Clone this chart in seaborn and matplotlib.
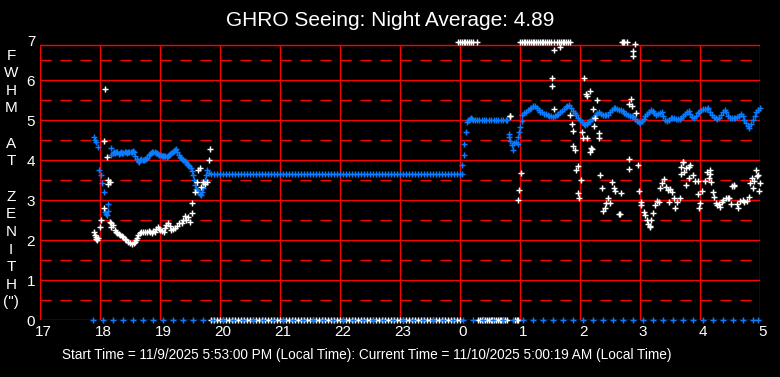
import matplotlib
matplotlib.use("Agg")
import matplotlib.pyplot as plt
import matplotlib.transforms as mtransforms
import seaborn as sns

# ---- data (hours since midnight of 11/9, values in arcsec) ----
hour_ticks = list(range(17, 30))
hour_labels = ["17", "18", "19", "20", "21", "22", "23", "0", "1", "2", "3", "4", "5"]

# blue series, varying parts
blue_t = [17.90, 17.92, 17.93, 17.97, 17.99, 18.01, 18.03, 18.06, 18.08, 18.10, 18.11, 18.13,
          18.14, 18.16, 18.18, 18.19,
          18.21, 18.23, 18.25, 18.27, 18.29, 18.31, 18.33, 18.35, 18.37, 18.39, 18.41, 18.43,
          18.45, 18.47, 18.49, 18.51, 18.53, 18.55, 18.57, 18.59, 18.61, 18.63, 18.65, 18.67,
          18.69, 18.71, 18.73, 18.75, 18.77, 18.79, 18.81, 18.83, 18.85, 18.87, 18.89, 18.91,
          18.93, 18.95, 18.97, 18.99, 19.01, 19.03, 19.05, 19.07, 19.09, 19.11, 19.13, 19.15,
          19.17, 19.19, 19.21, 19.23, 19.25, 19.27, 19.29, 19.31, 19.33, 19.35, 19.37, 19.39,
          19.41, 19.43, 19.45, 19.47, 19.49, 19.51, 19.53, 19.55, 19.57, 19.58, 19.60, 19.62,
          19.64, 19.66, 19.68, 19.70, 19.72, 19.74, 19.75, 19.77, 19.79, 19.81,
          24.03, 24.04, 24.06, 24.07, 24.10, 24.12, 24.14, 24.16, 24.18, 24.20, 24.22, 24.25,
          24.28, 24.32, 24.36, 24.40, 24.44, 24.48, 24.52, 24.56, 24.60, 24.64, 24.68, 24.72,
          24.76, 24.79, 24.81, 24.82, 24.84, 24.86, 24.88, 24.90, 24.93, 24.96, 24.97, 24.99,
          25.00, 25.03,
          25.04, 25.07, 25.10, 25.13, 25.16, 25.19, 25.22, 25.25, 25.28, 25.31, 25.34, 25.37,
          25.40, 25.43, 25.46, 25.49, 25.52, 25.55, 25.58, 25.61, 25.64, 25.67, 25.70, 25.73,
          25.76, 25.79, 25.82, 25.85, 25.88, 25.91, 25.94, 25.97, 26.00, 26.03, 26.06, 26.08,
          26.11, 26.14, 26.17, 26.20, 26.23, 26.26, 26.29, 26.32, 26.35, 26.38, 26.41, 26.44,
          26.47, 26.50, 26.53, 26.56, 26.59, 26.62, 26.65, 26.68, 26.71, 26.74, 26.77, 26.80,
          26.83, 26.86, 26.89, 26.92, 26.95, 26.98, 27.00, 27.03, 27.06, 27.09, 27.12, 27.15,
          27.18, 27.21, 27.24, 27.27, 27.30, 27.33, 27.36, 27.39, 27.42, 27.45, 27.48, 27.51,
          27.54, 27.57, 27.60, 27.63, 27.66, 27.69, 27.72, 27.75, 27.78, 27.81, 27.84, 27.87,
          27.90, 27.93, 27.96, 27.99, 28.02, 28.05, 28.08, 28.11, 28.14, 28.17, 28.20, 28.23,
          28.26, 28.29, 28.32, 28.35, 28.38, 28.41, 28.44, 28.47, 28.50, 28.53, 28.56, 28.59,
          28.62, 28.65, 28.68, 28.71, 28.74, 28.77, 28.80, 28.82, 28.85, 28.88, 28.91, 28.94,
          28.97, 29.00]
blue_v = [4.58, 4.50, 4.46, 4.32, 3.75, 3.63, 3.42, 3.21, 2.71, 2.65, 2.62, 2.72,
          2.89, 3.46, 4.12, 4.29,
          4.18, 4.20, 4.17, 4.21, 4.19, 4.16, 4.18, 4.20, 4.17, 4.18, 4.19, 4.20,
          4.18, 4.19, 4.21, 4.20, 4.19, 4.22, 4.20, 4.10, 4.02, 3.98, 3.96, 4.00,
          4.02, 3.99, 4.00, 4.03, 4.02, 4.06, 4.12, 4.16, 4.18, 4.20, 4.19, 4.21,
          4.18, 4.17, 4.15, 4.12, 4.12, 4.11, 4.10, 4.09, 4.09, 4.08, 4.10, 4.13,
          4.16, 4.18, 4.20, 4.23, 4.26, 4.27, 4.20, 4.12, 4.08, 4.05, 4.02, 4.00,
          3.97, 3.94, 3.91, 3.88, 3.85, 3.80, 3.72, 3.63, 3.50, 3.38, 3.28, 3.24,
          3.21, 3.16, 3.13, 3.20, 3.29, 3.42, 3.50, 3.62, 3.75, 3.68,
          3.64, 3.88, 4.12, 4.39, 4.69, 4.94, 5.00, 5.02, 5.04, 5.02, 5.00, 5.01,
          5.00, 5.00, 5.00, 5.00, 5.00, 5.00, 5.00, 5.00, 5.00, 5.00, 5.00, 5.00,
          5.00, 5.00, 4.64, 4.58, 4.47, 4.38, 4.25, 4.42, 4.46, 4.39, 4.58, 4.71,
          4.83, 4.97,
          5.13, 5.17, 5.21, 5.24, 5.28, 5.31, 5.34, 5.36, 5.31, 5.25, 5.21, 5.19,
          5.16, 5.14, 5.12, 5.10, 5.09, 5.08, 5.10, 5.13, 5.16, 5.19, 5.23, 5.27,
          5.32, 5.36, 5.37, 5.30, 5.22, 5.17, 5.13, 5.06, 5.00, 4.94, 4.89, 4.88,
          4.91, 4.95, 4.98, 5.02, 5.07, 5.13, 5.18, 5.21, 5.16, 5.13, 5.12, 5.13,
          5.13, 5.19, 5.26, 5.31, 5.29, 5.27, 5.26, 5.25, 5.22, 5.18, 5.15, 5.13,
          5.11, 5.09, 5.08, 5.03, 4.98, 4.94, 4.92, 4.97, 5.03, 5.09, 5.14, 5.19,
          5.24, 5.22, 5.17, 5.13, 5.14, 5.17, 5.19, 5.09, 4.99, 4.98, 5.01, 5.05,
          5.06, 5.05, 5.03, 5.02, 5.03, 5.06, 5.10, 5.14, 5.19, 5.22, 5.15, 5.08,
          5.05, 5.10, 5.17, 5.21, 5.24, 5.27, 5.28, 5.28, 5.29, 5.21, 5.13, 5.07,
          5.05, 5.03, 5.05, 5.12, 5.19, 5.24, 5.20, 5.11, 5.04, 5.04, 5.05, 5.06,
          5.08, 5.11, 5.14, 5.10, 5.01, 4.92, 4.85, 4.81, 4.90, 5.00, 5.09, 5.19,
          5.25, 5.31]

# long stretch where the blue series sits at 3.64 and the white one at 0
flat_t = [19.85, 19.90, 19.95,
          20.00, 20.05, 20.10, 20.15, 20.20, 20.25, 20.30, 20.35, 20.40, 20.45,
          20.50, 20.55, 20.60, 20.65, 20.70, 20.75, 20.80, 20.85, 20.90, 20.95,
          21.00, 21.05, 21.10, 21.15, 21.20, 21.25, 21.30, 21.35, 21.40, 21.45,
          21.50, 21.55, 21.60, 21.65, 21.70, 21.75, 21.80, 21.85, 21.90, 21.95,
          22.00, 22.05, 22.10, 22.15, 22.20, 22.25, 22.30, 22.35, 22.40, 22.45,
          22.50, 22.55, 22.60, 22.65, 22.70, 22.75, 22.80, 22.85, 22.90, 22.95,
          23.00, 23.05, 23.10, 23.15, 23.20, 23.25, 23.30, 23.35, 23.40, 23.45,
          23.50, 23.55, 23.60, 23.65, 23.70, 23.75, 23.80, 23.85, 23.90, 23.95, 24.00]
flat_blue = 3.64
flat_white = 0.0

# white series, scattered points
white_t = [17.90, 17.91, 17.93, 17.94, 17.95, 17.97, 18.00, 18.02, 18.06, 18.07, 18.08, 18.11,
           18.13, 18.14, 18.17, 18.16, 18.18, 18.19, 18.22, 18.25, 18.27, 18.29, 18.31, 18.33,
           18.36, 18.39, 18.42, 18.44, 18.47, 18.50, 18.53, 18.56, 18.58, 18.60, 18.62, 18.64,
           18.67, 18.69, 18.72, 18.75, 18.78, 18.81, 18.83, 18.86, 18.89, 18.92, 18.94, 18.96,
           18.98, 19.00, 19.03, 19.06, 19.08, 19.10, 19.14, 19.16, 19.19, 19.22, 19.25, 19.28,
           19.31, 19.36, 19.39, 19.42, 19.44, 19.47, 19.50, 19.53, 19.54, 19.58, 19.61, 19.64,
           19.67, 19.69, 19.72, 19.75, 19.78, 19.82, 19.84,
           24.83, 24.84, 24.97, 24.99, 25.01,
           25.53, 25.54, 25.56, 25.57, 25.66,
           25.84, 25.86, 25.88, 25.89, 25.91, 25.94, 25.96, 25.97, 25.99, 26.01, 26.03, 26.05,
           26.07, 26.10, 26.12, 26.16, 26.29, 26.21, 26.25, 26.24, 26.12, 26.17, 26.19, 26.20,
           26.31, 26.32,
           26.33, 26.36, 26.38, 26.42, 26.44, 26.47, 26.50, 26.53, 26.56, 26.58, 26.65, 26.66,
           26.69,
           26.81, 26.82, 26.97, 26.99, 26.82, 26.85, 26.86, 26.94, 26.88, 26.89, 26.92,
           27.01, 27.02, 27.06, 27.08, 27.11, 27.14, 27.16, 27.17, 27.19, 27.22, 27.25, 27.29,
           27.31, 27.33, 27.36, 27.40, 27.43, 27.47, 27.50, 27.54, 27.57, 27.49, 27.58, 27.62,
           27.66,
           27.69, 27.69, 27.71, 27.74, 27.72, 27.77, 27.76, 27.81, 27.82, 27.84, 27.89, 27.91,
           27.96, 27.97, 27.99, 28.00, 28.04, 28.08, 28.12, 28.15, 28.16, 28.17, 28.18, 28.21,
           28.23, 28.26, 28.28, 28.31, 28.33, 28.36, 28.39, 28.43, 28.46, 28.49, 28.51, 28.54,
           28.56, 28.57, 28.61, 28.64, 28.67, 28.71, 28.74, 28.78, 28.81, 28.83, 28.86, 28.88,
           28.90, 28.93, 28.95, 28.97, 28.99, 29.00]
white_v = [2.21, 2.12, 2.08, 2.02, 2.00, 2.04, 2.33, 2.50, 2.79, 4.47, 5.77, 4.07,
           3.50, 3.40, 3.46, 2.46, 2.33, 2.42, 2.38, 2.25, 2.21, 2.17, 2.15, 2.12,
           2.10, 2.08, 2.03, 2.00, 1.96, 1.92, 1.90, 1.92, 1.95, 2.00, 2.06, 2.12,
           2.17, 2.21, 2.20, 2.21, 2.19, 2.23, 2.20, 2.18, 2.22, 2.21, 2.28, 2.33,
           2.28, 2.25, 2.23, 2.21, 2.30, 2.38, 2.43, 2.36, 2.25, 2.27, 2.29, 2.35,
           2.42, 2.42, 2.50, 2.60, 2.50, 2.58, 2.46, 2.67, 2.92, 3.21, 3.46, 3.75,
           3.80, 3.33, 3.46, 3.40, 3.46, 4.00, 4.27,
           5.10, 5.10, 3.00, 3.25, 3.67,
           6.06, 5.84, 5.27, 6.74, 6.82,
           5.12, 4.89, 4.72, 4.35, 4.25, 3.75, 3.84, 3.17, 3.04, 3.50, 4.71, 4.56,
           6.06, 5.64, 5.60, 5.72, 5.50, 5.27, 5.06, 4.84, 4.56, 4.21, 4.29, 4.27,
           4.67, 4.56,
           3.63, 3.29, 2.73, 2.81, 2.92, 3.06, 2.92, 3.44, 3.29, 3.23, 2.64, 2.64,
           3.17,
           4.03, 3.77, 3.88, 3.22, 5.40, 5.52, 5.36, 5.17, 6.72, 6.61, 6.89,
           2.94, 2.88, 2.71, 2.63, 2.50, 2.39, 2.33, 2.35, 2.50, 2.68, 2.87, 2.97,
           2.96, 3.30, 3.42, 3.52, 3.33, 3.25, 3.27, 3.19, 3.06, 2.96, 2.81, 2.96,
           3.06,
           3.83, 3.65, 3.96, 3.71, 3.94, 3.38, 3.80, 3.83, 3.54, 3.88, 3.63, 3.47,
           3.47, 3.14, 2.79, 2.92, 3.22, 3.47, 3.71, 3.55, 3.75, 3.65, 3.44, 3.21,
           3.08, 2.92, 2.88, 2.90, 2.83, 2.95, 3.00, 3.06, 3.04, 3.06, 2.89, 3.36,
           3.36, 3.37, 2.89, 2.79, 2.98, 3.00, 2.94, 2.98, 3.08, 3.42, 3.54, 3.30,
           3.48, 3.75, 3.60, 3.63, 3.22, 3.42]

# white points pinned at the top of the scale
white_top_t = [23.97, 24.00, 24.03, 24.06, 24.09, 24.12, 24.15, 24.18, 24.21, 24.28,
               25.00, 25.03, 25.06, 25.09, 25.12, 25.15, 25.18, 25.21, 25.24, 25.27,
               25.30, 25.33, 25.36, 25.39, 25.42, 25.45, 25.48, 25.51, 25.57, 25.62,
               25.65, 25.68, 25.71, 25.74, 25.77, 25.80, 25.83, 26.70, 26.72, 26.74, 26.78]
white_top_v = 6.95

# white points at zero after midnight
white_zero_t = [24.30, 24.33, 24.36, 24.39, 24.42, 24.45, 24.48, 24.51, 24.54, 24.57,
                24.60, 24.63, 24.66, 24.69, 24.72, 24.75, 24.78, 24.92, 24.95, 24.97]

# blue markers along the zero line (every 10 minutes)
blue_zero_t = [17.88, 18.05, 18.22, 18.38, 18.55, 18.72, 18.88,
               19.05, 19.22, 19.38, 19.55, 19.72, 19.88, 20.05, 20.22, 20.38, 20.55, 20.72, 20.88,
               21.05, 21.22, 21.38, 21.55, 21.72, 21.88, 22.05, 22.22, 22.38, 22.55, 22.72, 22.88,
               23.05, 23.22, 23.38, 23.55, 23.72, 23.88, 24.05, 24.22, 24.38, 24.55, 24.72, 24.88,
               25.05, 25.22, 25.38, 25.55, 25.72, 25.88, 26.05, 26.22, 26.38, 26.55, 26.72, 26.88,
               27.05, 27.22, 27.38, 27.55, 27.72, 27.88, 28.05, 28.22, 28.38, 28.55, 28.72, 28.88,
               28.97]

title = "GHRO Seeing: Night Average: 4.89"
ylabel = "F\nW\nH\nM\n\nA\nT\n\nZ\nE\nN\nI\nT\nH\n(\")"
footer = ("Start Time = 11/9/2025 5:53:00 PM (Local Time): "
          "Current Time = 11/10/2025 5:00:19 AM (Local Time)")

BLUE = "#0a7cff"
WHITE = "#ffffff"
RED = "#ff0000"

sns.set_style("dark", {"axes.facecolor": "black", "figure.facecolor": "black"})
plt.rcParams["font.family"] = ["Liberation Sans", "DejaVu Sans"]

W, H = 780, 377
fig = plt.figure(figsize=(W / 100, H / 100), dpi=100)
ax = fig.add_axes([40 / W, 57 / H, 720 / W, 280 / H])
ax.set_xlim(17, 29)
ax.set_ylim(0, 7)
for s in ax.spines.values():
    s.set_visible(False)

# red grid: solid hours / whole units, dashed half units
ax.vlines(hour_ticks, 0, 6.875, colors=RED, lw=1.0, zorder=1)
for y in range(0, 7):
    ax.axhline(y, color=RED, lw=1.0, zorder=1)
    ax.axhline(y + 0.5, color=RED, lw=1.0, ls=(0, (8, 6.4)), zorder=1)
ax.axhline(6.875, color=RED, lw=1.0, zorder=1)

mk = dict(marker="+", s=20, linewidth=1.05, clip_on=False, legend=False, ax=ax)
sns.scatterplot(x=blue_t, y=blue_v, color=BLUE, zorder=3, **mk)
sns.scatterplot(x=flat_t, y=[flat_blue] * len(flat_t), color=BLUE, zorder=3, **mk)
sns.scatterplot(x=white_t, y=white_v, color=WHITE, zorder=4, **mk)
sns.scatterplot(x=flat_t, y=[flat_white] * len(flat_t), color=WHITE, zorder=4, **mk)
sns.scatterplot(x=white_zero_t, y=[0.0] * len(white_zero_t), color=WHITE, zorder=4, **mk)
sns.scatterplot(x=white_top_t, y=[white_top_v] * len(white_top_t), color=WHITE, zorder=4, **mk)
sns.scatterplot(x=blue_zero_t, y=[0.0] * len(blue_zero_t), color=BLUE, zorder=5, **mk)

ax.set_xticks(hour_ticks)
ax.set_xticklabels(hour_labels)
ax.set_yticks(range(0, 8))
ax.set_yticklabels([str(v) for v in range(0, 8)])
ax.tick_params(length=0, colors=WHITE, labelsize=11, pad=3.5)
shift = mtransforms.ScaledTranslation(3 / 100, 0, fig.dpi_scale_trans)
for lab in ax.get_xticklabels():
    lab.set_transform(lab.get_transform() + shift)
ax.set_xlabel("")
ax.set_ylabel("")
ax.grid(False)

fig.text(0.5, 1 - 20 / H, title, ha="center", va="center", color=WHITE, fontsize=15)
fig.text(11 / W, 1 - 179 / H, ylabel, ha="center", va="center", color=WHITE,
         fontsize=11, linespacing=1.33)
fig.text(62 / W, 1 - 355 / H, footer, ha="left", va="center", color=WHITE,
         fontsize=9.8)

fig.savefig("out.png", dpi=100, facecolor="black")
